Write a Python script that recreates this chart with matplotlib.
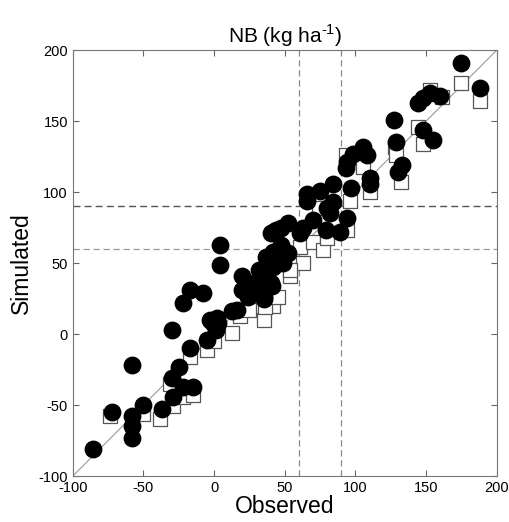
import matplotlib
matplotlib.use("Agg")
from matplotlib import pyplot as plt

plt.rcParams['font.family'] = ['Liberation Sans', 'DejaVu Sans']
plt.rcParams['axes.unicode_minus'] = False
plt.rcParams['mathtext.fontset'] = 'custom'
plt.rcParams['mathtext.rm'] = 'Liberation Sans'

# filled circles (observed, simulated)
obs_a = [-86, -72, -50, -58, -58, -58, -58, -37, -29, -30, -25, -30, -17, -22, -15,
         -22, -17, -8, -5, -1, 3, 1, 4, 4, 13, 16, 20, 20, 24, 28, 32, 35, 37, 42,
         40, 32, 40, 44, -3, 2, 37, 42, 47, 52, 49, 37, 41, 35, 52, 47, 42, 61, 63,
         70, 79, 89, 94, 82, 80, 84, 66, 66, 75, 84, 97, 93, 94, 98, 105, 108, 110,
         110, 127, 129, 133, 130, 148, 155, 144, 148, 153, 160, 175, 188]
sim_a = [-81, -55, -50, -58, -65, -73, -22, -53, -44, -31, -23, 3, -10, -37, -37,
         22, 31, 29, -4, 8, 8, 3, 63, 49, 16, 17, 41, 31, 26, 36, 29, 25, 47, 47,
         36, 45, 71, 73, 10, 11, 54, 58, 63, 57, 50, 40, 34, 26, 78, 75, 72, 71, 75,
         80, 73, 72, 82, 85, 89, 93, 94, 99, 101, 106, 103, 117, 121, 127, 132, 126, 110,
         106, 151, 135, 119, 114, 144, 137, 163, 166, 170, 168, 191, 173]

# open squares (observed, simulated)
obs_b = [-74, -50, -38, -29, -31, -22, -15, -17, -5, 0, 13, 18, 25, 35, 42, 36, 45,
         54, 63, 61, 54, 70, 77, 80, 94, 74, 96, 110, 93, 105, 128, 129, 132, 144, 148,
         153, 161, 175, 188, 47]
sim_b = [-58, -56, -60, -51, -35, -44, -43, -16, -11, -5, 1, 13, 17, 10, 20, 19, 26,
         41, 50, 61, 45, 65, 59, 68, 73, 89, 94, 100, 126, 118, 132, 126, 107, 146, 134,
         172, 167, 177, 164, 57]

ticks = [-100, -50, 0, 50, 100, 150, 200]

fig = plt.figure(figsize=(5.09, 5.22), dpi=100)
ax = fig.add_axes([0.143, 0.088, 0.833, 0.816])

ax.plot([-100, 200], [-100, 200], color='#999999', linewidth=0.8, zorder=1)
ax.axvline(60, color='#888888', linestyle='--', linewidth=0.9, dashes=(5, 3), zorder=1)
ax.axvline(90, color='#888888', linestyle='--', linewidth=0.9, dashes=(5, 3), zorder=1)
ax.axhline(90, color='#555555', linestyle='--', linewidth=1.0, dashes=(5, 3), zorder=1)
ax.axhline(60, color='#999999', linestyle='--', linewidth=0.9, dashes=(5, 3), zorder=1)

ax.scatter(obs_b, sim_b, marker='s', s=95, facecolor='white', edgecolor='#555555',
           linewidth=0.9, zorder=2)
ax.scatter(obs_a, sim_a, marker='o', s=140, color='black', zorder=3)

ax.set_xlim(-100, 200)
ax.set_ylim(-100, 200)
ax.set_xticks(ticks)
ax.set_yticks(ticks)
ax.tick_params(direction='in', top=True, right=True, labelsize=10.5, length=4,
               color='#666666')
for sp in ax.spines.values():
    sp.set_color('#777777')

ax.set_xlabel('Observed', fontsize=16.5, labelpad=0)
ax.set_ylabel('Simulated', fontsize=16.5, labelpad=4)
ax.set_title(r'NB (kg ha$^{\text{-}1}$)', fontsize=15, pad=5)

fig.savefig('out.png', dpi=100)
